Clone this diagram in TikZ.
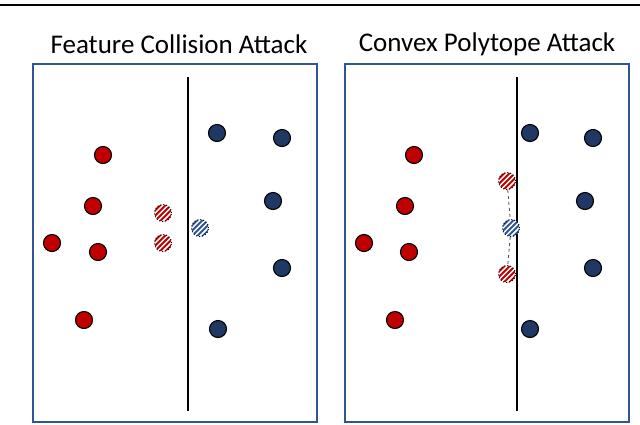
\documentclass[tikz,border=0pt]{standalone}
\usepackage{fontspec}
\setmainfont{Carlito}
\definecolor{ptred}{HTML}{C00000}
\definecolor{ptblue}{HTML}{203864}
\definecolor{stripeblue}{HTML}{2F5597}
\definecolor{boxblue}{HTML}{2F5597}
\tikzset{
  panel/.style={draw=boxblue, line width=1.6pt},
  divider/.style={draw=black, line width=1.2pt},
  redpt/.style={circle, draw=black, line width=1.1pt, fill=ptred, minimum size=17pt, inner sep=0pt},
  bluept/.style={circle, draw=black, line width=1.1pt, fill=ptblue, minimum size=17pt, inner sep=0pt},
  poison/.style={circle, draw=black, dotted, line width=1pt, minimum size=17pt, inner sep=0pt, fill=white,
    path picture={\foreach \k in {-3,...,3}
      \draw[solid, line width=1.9pt, #1] ([shift={({\k*5.3pt-13pt},-13pt)}]path picture bounding box.center) -- ++(26pt,26pt);}},
  redpoison/.style={poison=ptred},
  bluepoison/.style={poison=stripeblue},
  title/.style={font=\fontsize{27}{32}\selectfont, anchor=center},
  hull/.style={draw=black!70, dashed, line width=0.8pt}
}
\begin{document}
\begin{tikzpicture}[x=1pt, y=-1pt]
\useasboundingbox (0,0) rectangle (640,424);
\fill[white] (0,0) rectangle (640,424);
% top rule
\draw[line width=2pt] (0,5) -- (640,5);
% titles
\node[title] (t1) at (179,44) {Feature Collision Attack};
\node[title] (t2) at (487,44) {Convex Polytope Attack};
% panels
\draw[panel] (33,64) rectangle (317,422);
\draw[panel] (345,64) rectangle (629,422);
% dividers
\coordinate (d1a) at (188,77); \coordinate (d1b) at (188,411);
\coordinate (d2a) at (517,77); \coordinate (d2b) at (517,411);
\draw[divider] (d1a) -- (d1b);
\draw[divider] (d2a) -- (d2b);
% left panel points
\node[redpt] (lr1) at (103,155) {};
\node[redpt] (lr2) at (93,206) {};
\node[redpt] (lr3) at (52,243) {};
\node[redpt] (lr4) at (98,252) {};
\node[redpt] (lr5) at (84,320) {};
\node[bluept] (lb1) at (217,133) {};
\node[bluept] (lb2) at (282,138) {};
\node[bluept] (lb3) at (273,201) {};
\node[bluept] (lb4) at (282,268) {};
\node[bluept] (lb5) at (218,329) {};
\node[redpoison] (lp1) at (163,213) {};
\node[redpoison] (lp2) at (163,243) {};
\node[bluepoison] (lt) at (200,228) {};
% right panel points
\node[redpt] (rr1) at (414,155) {};
\node[redpt] (rr2) at (405,206) {};
\node[redpt] (rr3) at (364,243) {};
\node[redpt] (rr4) at (409,252) {};
\node[redpt] (rr5) at (395,320) {};
\node[bluept] (rb1) at (530,133) {};
\node[bluept] (rb2) at (593,138) {};
\node[bluept] (rb3) at (585,201) {};
\node[bluept] (rb4) at (593,268) {};
\node[bluept] (rb5) at (530,329) {};
\node[redpoison] (rp1) at (507,181) {};
\node[redpoison] (rp2) at (507,274) {};
\node[bluepoison] (rt) at (511,228) {};
\draw[hull] (rp1) -- (rt) -- (rp2);
\end{tikzpicture}
\end{document}
